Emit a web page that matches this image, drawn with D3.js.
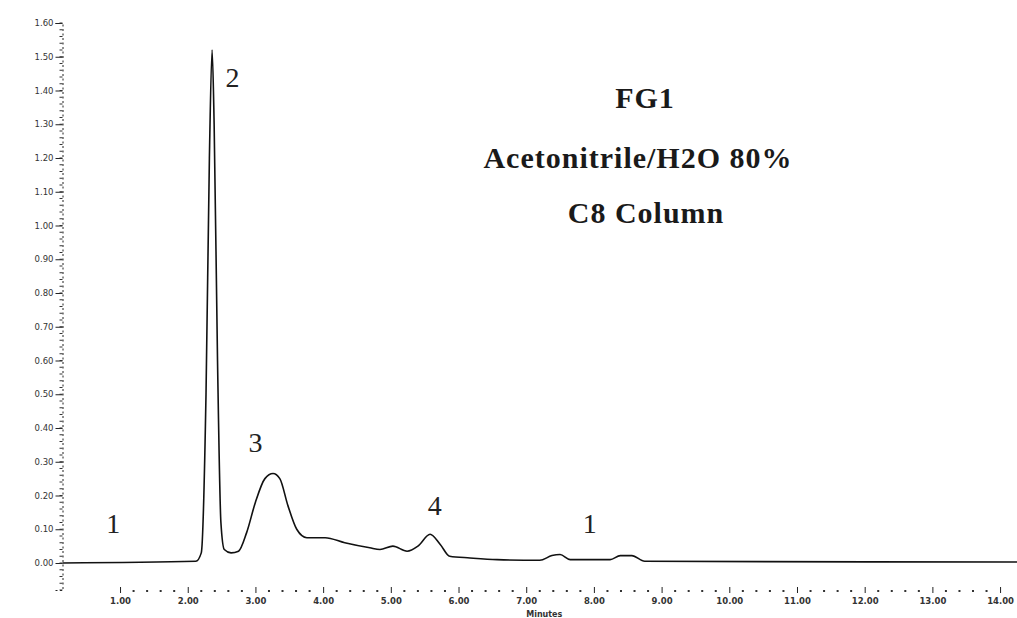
<!DOCTYPE html>
<html>
<head>
<meta charset="utf-8">
<script src="https://cdn.jsdelivr.net/npm/d3@7"></script>
<style>
  body { margin: 0; background: #fff; }
  svg { display: block; }
</style>
</head>
<body>
<div id="viz"></div>
<script>
const width = 1017;
const height = 618;

// Chromatogram trace: retention time (minutes) and absorbance (AU)
const times = [0.15, 2.12, 2.20, 2.27, 2.32, 2.36, 2.39, 2.44, 2.49, 2.54, 2.64, 2.75, 2.87, 3.00, 3.14, 3.26,
  3.36, 3.48, 3.61, 3.76, 4.03, 4.32, 4.69, 4.84, 5.03, 5.24, 5.40, 5.58, 5.73, 5.87, 6.17, 6.57,
  7.20, 7.38, 7.50, 7.65, 8.24, 8.39, 8.56, 8.75, 14.25];
const absorbance = [0.0, 0.005, 0.03, 0.5, 1.2, 1.52, 1.3, 0.6, 0.12, 0.04, 0.03, 0.035, 0.09, 0.18, 0.25, 0.265,
  0.25, 0.17, 0.10, 0.075, 0.075, 0.06, 0.045, 0.04, 0.05, 0.035, 0.05, 0.085, 0.055, 0.02, 0.015, 0.01,
  0.008, 0.022, 0.025, 0.01, 0.01, 0.022, 0.022, 0.005, 0.003];

const yTicks = [0, 0.1, 0.2, 0.3, 0.4, 0.5, 0.6, 0.7, 0.8, 0.9, 1.0, 1.1, 1.2, 1.3, 1.4, 1.5, 1.6];
const xTicks = [1, 2, 3, 4, 5, 6, 7, 8, 9, 10, 11, 12, 13, 14];

// Peak labels
const peakNames = ['1', '2', '3', '4', '1'];
const peakTimes = [0.9, 2.66, 3.0, 5.65, 7.94];
const peakValues = [0.09, 1.41, 0.33, 0.142, 0.09];

const titleLines = ['FG1', 'Acetonitrile/H2O 80%', 'C8 Column'];

const xScale = d3.scaleLinear().domain([0.15, 14.25]).range([62.5, 1017]);
const yScale = d3.scaleLinear().domain([-0.08, 1.6]).range([590, 23]);

const svg = d3.select('#viz')
  .append('svg')
    .attr('width', width)
    .attr('height', height);

// y axis
const yAxis = d3.axisLeft(yScale)
  .tickValues(yTicks)
  .tickFormat(d3.format('.2f'))
  .tickSize(7);
const yAxisGroup = svg.append('g')
    .attr('transform', `translate(${xScale(0.15)},0)`)
  .call(yAxis);
yAxisGroup.select('.domain')
  .attr('stroke', '#222')
  .attr('stroke-dasharray', '2,2.5');
yAxisGroup.selectAll('text')
  .attr('x', -9)
  .style('font-family', 'DejaVu Sans')
  .style('font-size', '8.5px')
  .attr('fill', '#333');
yAxisGroup.selectAll('.tick line').attr('stroke', '#222');

// y minor ticks
svg.append('g')
  .selectAll('line')
  .data(d3.range(-0.08, 1.601, 0.02))
  .join('line')
    .attr('x1', xScale(0.15) - 3)
    .attr('x2', xScale(0.15))
    .attr('y1', d => yScale(d))
    .attr('y2', d => yScale(d))
    .attr('stroke', '#333');

// x axis (ticks only)
const xAxis = d3.axisTop(xScale)
  .tickValues(xTicks)
  .tickFormat(d3.format('.2f'))
  .tickSize(6);
const xAxisGroup = svg.append('g')
    .attr('transform', 'translate(0,593)')
  .call(xAxis);
xAxisGroup.select('.domain').remove();
xAxisGroup.selectAll('.tick line').attr('stroke', '#222');
xAxisGroup.selectAll('text')
  .attr('y', 11)
  .style('font-family', 'DejaVu Sans')
  .style('font-size', '8.5px')
  .style('font-weight', 'bold')
  .attr('fill', '#333');

// x minor ticks (dots)
svg.append('g')
  .selectAll('rect')
  .data(d3.range(1, 14.01, 0.2).filter(d => Math.abs(d - Math.round(d)) > 0.01))
  .join('rect')
    .attr('x', d => xScale(d) - 1)
    .attr('y', 590)
    .attr('width', 2)
    .attr('height', 2)
    .attr('fill', '#333');

svg.append('text')
  .attr('x', xScale(7.0))
  .attr('y', 617)
  .style('font-family', 'DejaVu Sans')
  .style('font-size', '8px')
  .style('font-weight', 'bold')
  .attr('fill', '#333')
  .text('Minutes');

// trace
const points = times.map((t, i) => ({t, v: absorbance[i]}));
const line = d3.line()
  .x(d => xScale(d.t))
  .y(d => yScale(d.v))
  .curve(d3.curveMonotoneX);
svg.append('path')
  .attr('d', line(points))
  .attr('fill', 'none')
  .attr('stroke', '#111')
  .attr('stroke-width', 1.6);

// peak labels
svg.append('g')
  .selectAll('text')
  .data(peakNames)
  .join('text')
    .attr('x', (d, i) => xScale(peakTimes[i]))
    .attr('y', (d, i) => yScale(peakValues[i]))
    .attr('text-anchor', 'middle')
    .style('font-family', 'Liberation Serif')
    .style('font-size', '28px')
    .attr('fill', '#222')
    .text(d => d);

// title block
svg.append('g')
  .selectAll('text')
  .data(titleLines)
  .join('text')
    .attr('x', (d, i) => [645, 638, 646][i])
    .attr('y', (d, i) => [108, 168, 223][i])
    .attr('text-anchor', 'middle')
    .style('font-family', 'Liberation Serif')
    .style('font-weight', 'bold')
    .style('font-size', '30px')
    .style('letter-spacing', '1px')
    .attr('fill', '#1a1a1a')
    .text(d => d);
</script>
</body>
</html>
